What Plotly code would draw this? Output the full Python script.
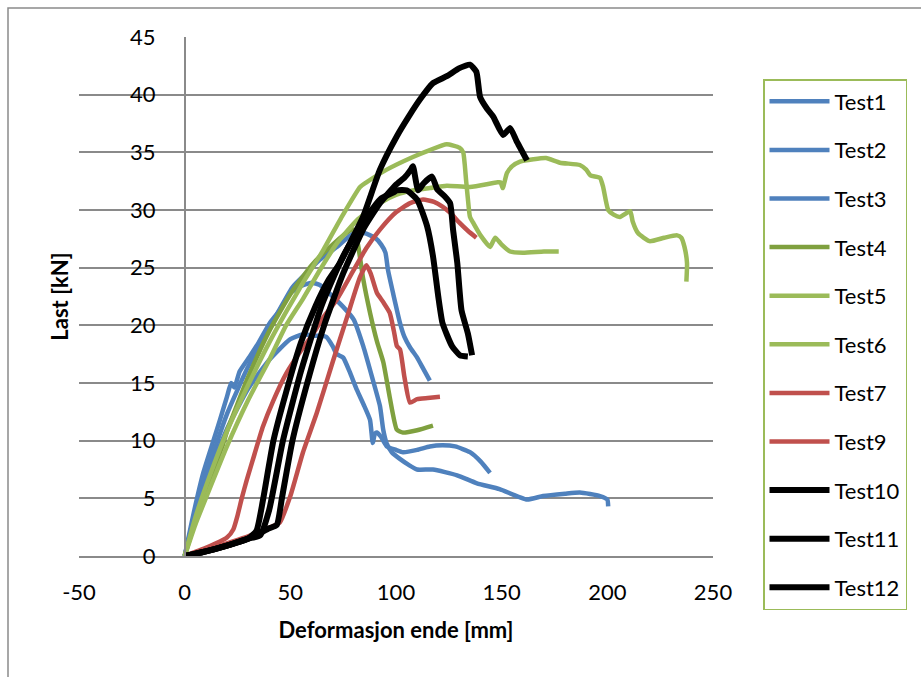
import plotly.graph_objects as go

# ---------------- data ----------------
test1_x = [0, 4, 8.8, 13.6, 16.7, 20, 22, 23.5, 26, 30.8, 35, 40.3, 45, 50, 55, 60, 64, 70, 75, 80, 84.5, 89, 92.4, 94, 95.5, 98, 102, 106, 110, 117.5, 128.9, 138.3, 149, 162, 169.6, 180, 187, 196.5, 200, 200.4]
test1_y = [0, 3.5, 7.2, 10, 11.8, 13.8, 15, 14.6, 16, 17.3, 18.5, 20.2, 21.3, 22.8, 23.4, 23.7, 23.5, 22.5, 21.6, 20.5, 18.2, 15.3, 13, 10.9, 9.8, 9, 8.4, 7.9, 7.5, 7.5, 7.0, 6.3, 5.8, 4.9, 5.2, 5.4, 5.5, 5.2, 4.9, 4.3]

test2_x = [0, 5, 10, 20, 30, 40, 45, 51, 58, 64, 72, 80, 85, 90, 93, 95, 96.2, 98.6, 101.9, 104, 106.6, 110, 113, 116]
test2_y = [0, 3.8, 7, 12.3, 16.4, 19.8, 21.4, 23.3, 24.6, 25.7, 26.8, 28, 28, 27.6, 27, 26.3, 24.8, 22.8, 20.2, 19, 18.1, 17.2, 16.2, 15.2]

test3_x = [0, 5, 10, 20, 30, 40, 50, 56, 62, 67, 70, 72, 75, 78, 81.5, 85, 87.7, 89, 90, 91, 93, 95.7, 100, 103.3, 110, 116, 122, 128, 135, 140, 144.5]
test3_y = [0, 3.4, 6.5, 11, 14.5, 17, 18.8, 19.2, 19.1, 19, 18.2, 17.5, 17.2, 16, 14.4, 13, 11.8, 9.8, 10.6, 10.7, 10.3, 9.5, 9.2, 9.0, 9.2, 9.5, 9.6, 9.5, 9.0, 8.2, 7.2]

test4_x = [0, 5, 10, 18, 20, 30, 40, 50, 60, 70, 78, 80, 82, 84.5, 87.7, 91, 94, 97, 100.4, 103.3, 110, 117.5]
test4_y = [0, 3, 5.7, 9.6, 10.8, 15.5, 19.5, 22.7, 25.2, 27, 28.2, 28.3, 27, 24, 21.1, 18.6, 16.8, 13.8, 10.95, 10.7, 10.9, 11.3]

test5_x = [0, 5, 10, 20, 30, 40, 48.4, 57, 65.5, 74, 83, 86, 95.6, 108, 116, 124, 130, 131.8, 132.5, 133.2, 134, 135, 136.5, 140, 144.5, 146, 147, 150, 154, 160, 170, 177]
test5_y = [0, 3.3, 6, 10.8, 14.8, 18.5, 21.3, 24, 26.5, 29.3, 32, 32.4, 33.5, 34.6, 35.2, 35.7, 35.4, 35, 34, 32.5, 31, 29.4, 28.9, 27.8, 26.8, 27.3, 27.6, 27, 26.4, 26.3, 26.4, 26.4]

test6_x = [0, 5, 10, 20, 30, 40, 48, 56, 64, 72, 82, 92.4, 100, 108, 116, 124, 135, 148, 149.5, 150.5, 152.5, 155, 158.7, 165, 171, 177.6, 187, 190, 192, 196.5, 198, 200.4, 203, 206, 210.8, 212, 214.5, 220, 227, 233, 235, 236.5, 237.7, 237.4]
test6_y = [0, 2.7, 5, 9.5, 13.5, 17, 20, 22.3, 24.8, 27.1, 29.2, 30.6, 31.3, 31.7, 31.9, 32.1, 32.0, 32.4, 32.4, 31.9, 33.2, 33.8, 34.2, 34.4, 34.5, 34.1, 33.9, 33.5, 33.0, 32.8, 32, 30, 29.6, 29.4, 29.9, 29, 28, 27.3, 27.6, 27.8, 27.6, 26.8, 25.4, 23.8]

test7_x = [0, 10, 20, 23, 25, 27, 29.4, 33, 37, 42, 48.3, 55, 60.9, 66, 71.9, 80, 86, 92.4, 100, 106.7, 112.8, 118, 122, 126, 130, 134, 138]
test7_y = [0, 0.7, 1.6, 2.3, 3.5, 5, 6.6, 8.8, 11.2, 13.5, 15.9, 17.8, 19.3, 20.8, 22.2, 24.8, 26.7, 28.3, 29.8, 30.6, 30.9, 30.7, 30.3, 29.7, 28.9, 28.2, 27.6]

test9_x = [0, 10, 20, 30, 38, 42, 45, 50, 56, 62.5, 70, 77, 83, 86, 88, 91, 94, 97, 99, 100.4, 101.9, 104, 106.6, 110, 115, 120.8]
test9_y = [0, 0.5, 1.1, 1.7, 2.3, 2.6, 2.9, 5.2, 9, 12.4, 16.8, 20.8, 24.2, 25.2, 24.5, 22.8, 22, 21.1, 19.5, 18.2, 17.9, 15.5, 13.3, 13.6, 13.7, 13.8]

test10_x = [0, 10, 20, 30, 34, 37, 42, 48, 55, 62, 68, 73.5, 79, 84.4, 92.4, 100.4, 106, 111.4, 117.5, 124, 130, 135, 138, 139.8, 143, 146, 150.7, 154, 157, 162]
test10_y = [0, 0.4, 0.9, 1.5, 2.2, 4.8, 10, 14.2, 18.5, 21.7, 23.9, 25.4, 27.4, 29.4, 33.5, 36.4, 38.1, 39.6, 41.0, 41.6, 42.3, 42.6, 42.0, 39.8, 38.8, 38.1, 36.5, 37.1, 36.0, 34.3]

test11_x = [0, 10, 20, 30, 35.7, 40, 46.5, 55, 65, 75, 86, 93, 98.6, 100.4, 105, 110, 114.7, 117.5, 120, 122, 126.5, 130.3, 134]
test11_y = [0, 0.4, 0.9, 1.5, 1.8, 4, 10, 16, 21.8, 26, 29.4, 31, 31.5, 31.7, 31.7, 30.9, 28.6, 26, 22.5, 20.2, 18.2, 17.4, 17.3]

test12_x = [0, 10, 20, 30, 40, 43.6, 46, 51, 58, 66, 75, 85, 92.4, 100, 104, 107, 108, 110.5, 113, 117, 119.5, 123, 125.6, 127, 129, 131, 134, 136]
test12_y = [0, 0.4, 0.9, 1.5, 2.4, 2.7, 5, 10, 15, 20, 24.5, 28.5, 30.6, 32.2, 32.8, 33.5, 33.8, 31.7, 32.3, 32.9, 31.8, 31.2, 30.6, 28.3, 25.4, 21.3, 19.3, 17.4]

series_names = ["Test1", "Test2", "Test3", "Test4", "Test5", "Test6",
                "Test7", "Test9", "Test10", "Test11", "Test12"]
series_x = [test1_x, test2_x, test3_x, test4_x, test5_x, test6_x,
            test7_x, test9_x, test10_x, test11_x, test12_x]
series_y = [test1_y, test2_y, test3_y, test4_y, test5_y, test6_y,
            test7_y, test9_y, test10_y, test11_y, test12_y]

x_ticks = [-50, 0, 50, 100, 150, 200, 250]
y_ticks = [0, 5, 10, 15, 20, 25, 30, 35, 40, 45]

# ---------------- styles ----------------
BLUE = "#4F81BD"
DGREEN = "#7FA03F"
LGREEN = "#9BBB59"
RED = "#C0504D"
BLACK = "#000000"
colors = [BLUE, BLUE, BLUE, DGREEN, LGREEN, LGREEN, RED, RED, BLACK, BLACK, BLACK]
widths = [4.5, 4.5, 4.5, 4.5, 4.5, 4.5, 4.5, 4.5, 6, 6, 6]
GRID = "#8A8A8A"
FONT = "Lato"

fig = go.Figure()
for i, (name, xs, ys) in enumerate(zip(series_names, series_x, series_y)):
    fig.add_trace(go.Scatter(
        x=xs, y=ys, mode="lines", name=name, legendgroup=name,
        line=dict(color=colors[i], width=widths[i], shape="spline", smoothing=0.5),
    ))

W, H = 921, 677
ml, mr, mt, mb = 79, 208, 37, 121
pw, ph = W - ml - mr, H - mt - mb


def px_to_paper_x(px):
    return (px - ml) / pw


def px_to_paper_y(py):
    return (H - mb - py) / ph


fig.update_layout(
    width=W, height=H,
    margin=dict(l=ml, r=mr, t=mt, b=mb, pad=0),
    paper_bgcolor="white", plot_bgcolor="white",
    font=dict(family=FONT, size=22, color="black"),
    showlegend=True,
    legend=dict(
        x=px_to_paper_x(763), y=px_to_paper_y(79),
        xanchor="left", yanchor="top",
        bordercolor=LGREEN, borderwidth=1.5, bgcolor="white",
        font=dict(family=FONT, size=22, color="black"),
        tracegroupgap=17, itemwidth=60, maxheight=640,
    ),
    xaxis=dict(
        range=[-50, 250], tickvals=x_ticks, ticktext=[str(v) for v in x_ticks],
        showgrid=False, zeroline=False,
        showline=True, linecolor=GRID, linewidth=1.5,
        ticks="", ticklabelstandoff=16,
        title=dict(text="<b>Deformasjon ende [mm]</b>", standoff=18,
                   font=dict(family=FONT, size=22)),
        fixedrange=True,
    ),
    yaxis=dict(
        range=[0, 45], tickvals=y_ticks, ticktext=[str(v) for v in y_ticks],
        anchor="free", position=1 / 6,
        showgrid=True, gridcolor=GRID, gridwidth=1.5,
        zeroline=False,
        showline=True, linecolor=GRID, linewidth=1.5,
        ticks="", ticklabelstandoff=24,
        title=dict(text="<b>Last [kN]</b>", standoff=54,
                   font=dict(family=FONT, size=22)),
        fixedrange=True,
    ),
)

# outer chart frame
fig.add_shape(type="rect", xref="paper", yref="paper",
              x0=px_to_paper_x(8), x1=px_to_paper_x(930),
              y0=px_to_paper_y(690), y1=px_to_paper_y(8),
              line=dict(color=GRID, width=1.5), fillcolor="rgba(0,0,0,0)",
              layer="below")

fig.write_html("out.html")
